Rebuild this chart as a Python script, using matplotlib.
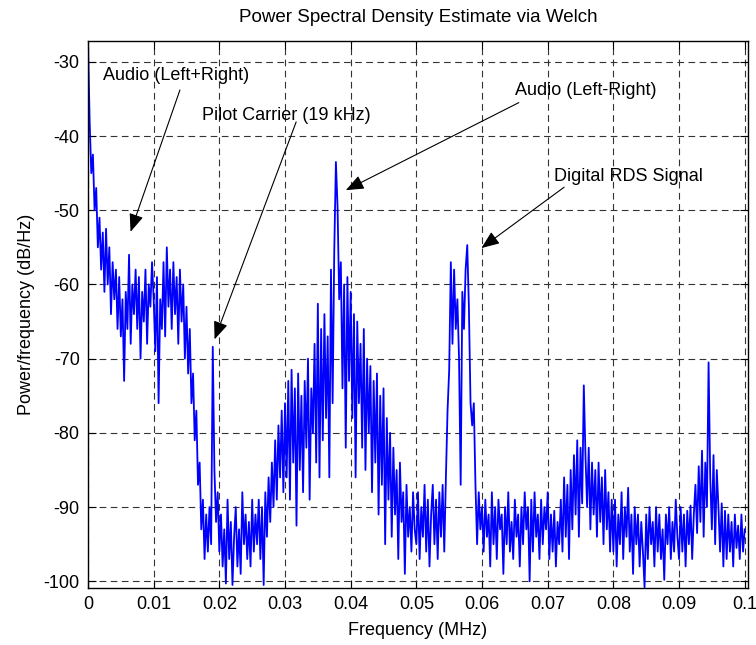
import numpy as np
import matplotlib
matplotlib.use("Agg")
import matplotlib.pyplot as plt

plt.rcParams['font.family'] = ['Liberation Sans', 'DejaVu Sans']
plt.rcParams['axes.unicode_minus'] = False

# PSD, one value every 0.00025 MHz (0 .. 0.1 MHz)
psd_00_01 = [-27.3, -38, -45, -42.5, -50, -47, -55, -51, -58, -53,
             -61, -52.5, -60, -55, -64, -57, -62, -58, -66, -59,
             -67, -62, -73, -61, -66, -56, -68, -60, -64, -58,
             -66, -59, -70, -61, -65, -58, -68, -60, -63, -57]
psd_01_02 = [-62, -69, -59, -76, -62, -66, -57, -67, -55, -63,
             -58, -66, -57, -64, -59, -68, -58, -65, -60, -70,
             -63, -72, -66, -76, -72, -81, -77, -87, -84, -93,
             -89, -97, -91, -96, -90, -95, -68.4, -85, -92, -88]
psd_02_03 = [-96, -91, -98, -93, -100.3, -89, -97, -92, -100.5, -94,
             -90, -98, -93, -99, -88, -95, -91, -97, -92, -98,
             -89, -96, -91, -95, -89, -97, -90, -100.5, -88, -94,
             -86, -92, -84, -90, -81, -89, -79, -86, -77, -88]
psd_03_04 = [-76, -86, -73, -89, -71.5, -84, -74, -92.5, -72, -85,
             -75, -88, -73, -82, -70, -89, -74, -80, -68, -84,
             -62.6, -86, -66, -81, -64, -78, -67, -86, -58, -76,
             -55.5, -43.5, -49.5, -62, -57, -74, -60, -82, -59, -73]
psd_04_05 = [-61, -78, -64, -86, -65, -76, -68, -82, -66, -85,
             -70, -80, -71, -88, -73, -84, -72, -91, -75, -87,
             -74, -95, -78, -89, -80, -94, -82, -91, -85, -97,
             -84, -92, -88, -99, -87, -94, -90, -96, -88, -93]
psd_05_06 = [-95, -88, -97, -90, -94, -87, -96, -89, -98, -91,
             -87, -95, -89, -97, -88, -94, -87, -96, -86, -77,
             -71.5, -57, -68, -58, -66, -62, -70, -87, -61, -66,
             -58, -54.7, -63, -76, -79, -76, -87, -95, -88, -93]
psd_06_07 = [-90, -96, -89, -94, -91, -98, -88, -95, -90, -97,
             -89, -93, -91, -99, -90, -95, -88, -96, -92, -97,
             -89, -94, -91, -98, -90, -95, -88, -93, -90, -100,
             -89, -96, -88, -94, -91, -97, -89, -95, -90, -93]
psd_07_08 = [-88, -97, -91, -96, -90.5, -98, -92, -95, -89, -96,
             -86, -94, -87, -97, -85, -93, -83, -91, -81, -94,
             -82, -89.5, -73.6, -83, -90, -82, -93, -84, -91, -85,
             -94, -84, -92, -86, -95, -85, -93, -88, -96, -89]
psd_08_09 = [-96, -89, -98, -91, -95, -88, -97, -90, -94, -87.4,
             -96, -91, -99, -90, -95, -91, -98, -92, -96, -100.8,
             -91, -97, -90, -95, -92, -98, -90, -96, -91, -97,
             -93, -99.8, -91, -95, -90, -97, -92, -96, -89, -94]
psd_09_10 = [-97, -90, -96, -91, -98, -90.5, -95, -89.8, -97, -91,
             -87, -93.5, -84.5, -92, -82.4, -94, -84, -90, -70.5, -86,
             -93, -83, -95, -85, -90, -96, -89.5, -98, -90.5, -97,
             -91, -96, -92, -98, -91, -95.5, -92.5, -97, -91, -96, -93]

psd = np.array(psd_00_01 + psd_01_02 + psd_02_03 + psd_03_04 + psd_04_05
               + psd_05_06 + psd_06_07 + psd_07_08 + psd_08_09 + psd_09_10)
freq = np.linspace(0, 0.1, len(psd))

xticks = [0, 0.01, 0.02, 0.03, 0.04, 0.05, 0.06, 0.07, 0.08, 0.09, 0.1]
xticklabels = ['0', '0.01', '0.02', '0.03', '0.04', '0.05', '0.06', '0.07', '0.08', '0.09', '0.1']
yticks = [-100, -90, -80, -70, -60, -50, -40, -30]

# (label, text position, arrow tail, arrow tip) in data units
notes = [
    ('Audio (Left+Right)', (0.0023, -31.8), (0.0140, -33.8), (0.00648, -52.9)),
    ('Pilot Carrier (19 kHz)', (0.0173, -37.2), (0.0317, -38.1), (0.01927, -67.4)),
    ('Audio (Left-Right)', (0.0650, -33.8), (0.0656, -35.5), (0.03926, -47.3)),
    ('Digital RDS Signal', (0.0710, -45.4), (0.0725, -46.9), (0.0599, -55.1)),
]

fig = plt.figure(figsize=(7.56, 6.45), dpi=100)
ax = fig.add_axes([0.1164, 0.0884, 0.873, 0.848])

ax.plot(freq, psd, color='#0000ff', lw=1.3)

ax.set_xlim(0, 0.1005)
ax.set_ylim(-100.9, -27.2)
ax.set_xticks(xticks)
ax.set_xticklabels(xticklabels)
ax.set_yticks(yticks)
ax.tick_params(direction='in', top=True, right=True, length=6, width=0.8,
               labelsize=13, pad=6)
ax.grid(True, color='#333333', linestyle=(0, (6, 4)), lw=0.8)
for sp in ax.spines.values():
    sp.set_linewidth(1.0)

ax.set_xlabel('Frequency (MHz)', fontsize=13, labelpad=6)
ax.set_ylabel('Power/frequency (dB/Hz)', fontsize=13, labelpad=6)
ax.set_title('Power Spectral Density Estimate via Welch', fontsize=13.5, pad=14)

for label, tpos, tail, tip in notes:
    ax.text(tpos[0], tpos[1], label, fontsize=13, ha='left', va='center')
    ax.annotate('', xy=tip, xytext=tail,
                arrowprops=dict(arrowstyle='-|>,head_length=0.55,head_width=0.22',
                                color='black', lw=0.8, mutation_scale=20,
                                shrinkA=0, shrinkB=0))

fig.savefig('out.png', dpi=100)
